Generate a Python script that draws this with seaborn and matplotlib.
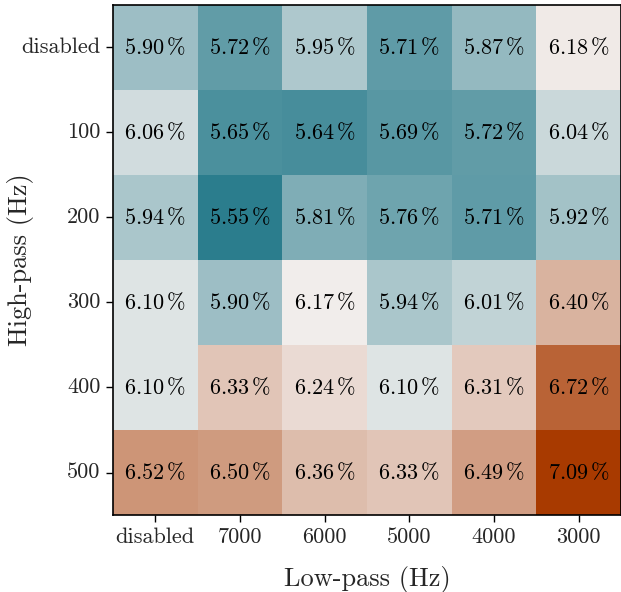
import numpy as np
import pandas as pd
import matplotlib
matplotlib.use("Agg")
import matplotlib.pyplot as plt
from matplotlib.colors import LinearSegmentedColormap
import seaborn as sns

sns.set_style("white")
plt.rcParams["font.family"] = "serif"
plt.rcParams["font.serif"] = ["cmr10", "DejaVu Serif"]
plt.rcParams["mathtext.fontset"] = "cm"
plt.rcParams["axes.formatter.use_mathtext"] = True

# Data
high_pass = ["disabled", "100", "200", "300", "400", "500"]
low_pass = ["disabled", "7000", "6000", "5000", "4000", "3000"]
row_disabled = [5.90, 5.72, 5.95, 5.71, 5.87, 6.18]
row_100 = [6.06, 5.65, 5.64, 5.69, 5.72, 6.04]
row_200 = [5.94, 5.55, 5.81, 5.76, 5.71, 5.92]
row_300 = [6.10, 5.90, 6.17, 5.94, 6.01, 6.40]
row_400 = [6.10, 6.33, 6.24, 6.10, 6.31, 6.72]
row_500 = [6.52, 6.50, 6.36, 6.33, 6.49, 7.09]

df = pd.DataFrame([row_disabled, row_100, row_200, row_300, row_400, row_500],
                  index=high_pass, columns=low_pass)
labels = df.map(lambda v: r"$%.2f\,\%%$" % v)

cmap = LinearSegmentedColormap.from_list("tealorange", ["#04677a", "#f2efee", "#a83a00"])

fig = plt.figure(figsize=(6.21, 5.92), dpi=100)
ax = fig.add_axes([0.182, 0.130, 0.818, 0.862])
sns.heatmap(df, ax=ax, cmap=cmap, vmin=5.43, vmax=6.89, annot=labels, fmt="",
            cbar=False, annot_kws={"fontsize": 16, "color": "black"})
for s in ax.spines.values():
    s.set_visible(True)
    s.set_color("black")
    s.set_linewidth(1.2)
ax.tick_params(axis="both", which="both", length=5, width=1, labelsize=16,
               left=True, bottom=True, color="black", pad=4)
ax.set_yticklabels(high_pass, rotation=0)
ax.set_xticklabels(low_pass, rotation=0)
ax.set_xlabel("Low-pass (Hz)", fontsize=19)
ax.set_ylabel("High-pass (Hz)", fontsize=19)
ax.xaxis.set_label_coords(0.5, -0.1)
ax.yaxis.set_label_coords(-0.155, 0.5)

plt.savefig("out.png", dpi=100)
plt.close()
